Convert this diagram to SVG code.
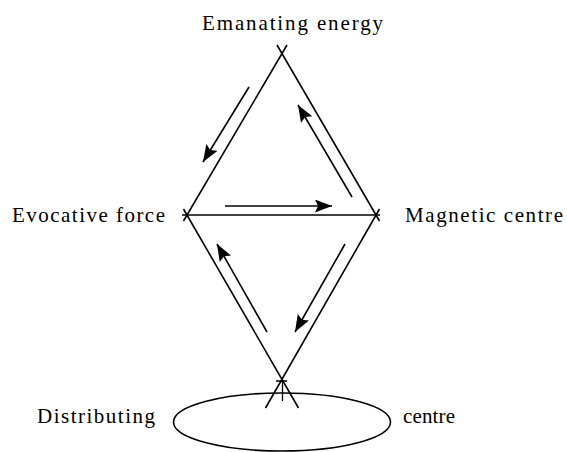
<svg xmlns="http://www.w3.org/2000/svg" width="567" height="452" viewBox="0 0 567 452">
  <style>
    .lbl { font-family: 'Liberation Serif', 'DejaVu Serif', 'Times New Roman', serif; font-size: 21px; fill: #000; }
    .edge { stroke: #000; stroke-width: 1.6; fill: none; }
    .arr { stroke: #000; stroke-width: 1.6; fill: none; marker-end: url(#head); }
    .thin { stroke: #000; stroke-width: 1.3; fill: none; }
  </style>
  <defs>
    <marker id="head" markerUnits="userSpaceOnUse" markerWidth="18" markerHeight="14" refX="17" refY="6.5" orient="auto">
      <path d="M0,0 L17,6.5 L0,13 L3,6.5 Z" fill="#000"/>
    </marker>
  </defs>
  <rect width="567" height="452" fill="#fff"/>

  <g id="emanating-energy">
    <text class="lbl" font-family="Liberation Serif, DejaVu Serif, serif" x="202" y="30" textLength="181" lengthAdjust="spacing">Emanating energy</text>
  </g>
  <g id="evocative-force">
    <text class="lbl" font-family="Liberation Serif, DejaVu Serif, serif" x="12" y="222" textLength="153" lengthAdjust="spacing">Evocative force</text>
  </g>
  <g id="magnetic-centre">
    <text class="lbl" font-family="Liberation Serif, DejaVu Serif, serif" x="405" y="222" textLength="158" lengthAdjust="spacing">Magnetic centre</text>
  </g>
  <g id="distributing-centre">
    <ellipse class="edge" cx="282" cy="422" rx="108.5" ry="29"/>
    <text class="lbl" font-family="Liberation Serif, DejaVu Serif, serif" x="37" y="423" textLength="118" lengthAdjust="spacing">Distributing</text>
    <text class="lbl" font-family="Liberation Serif, DejaVu Serif, serif" x="403" y="423" textLength="52" lengthAdjust="spacing">centre</text>
    <path class="thin" d="M276,381 H287 M282.5,381 V401"/>
  </g>

  <g id="connectors">
    <line class="edge" x1="183.5" y1="221" x2="287" y2="45"/>
    <line class="edge" x1="379.5" y1="221" x2="277" y2="45"/>
    <line class="edge" x1="183.5" y1="209" x2="298.5" y2="408"/>
    <line class="edge" x1="379.5" y1="209" x2="265.5" y2="408"/>
    <line class="edge" x1="182" y1="215" x2="380" y2="215"/>
    <line class="arr" x1="249" y1="87" x2="203" y2="162"/>
    <line class="arr" x1="352" y1="197" x2="298" y2="105"/>
    <line class="arr" x1="225" y1="206" x2="332" y2="206"/>
    <line class="arr" x1="267" y1="332" x2="217" y2="244"/>
    <line class="arr" x1="345" y1="244" x2="295" y2="332"/>
  </g>
</svg>
